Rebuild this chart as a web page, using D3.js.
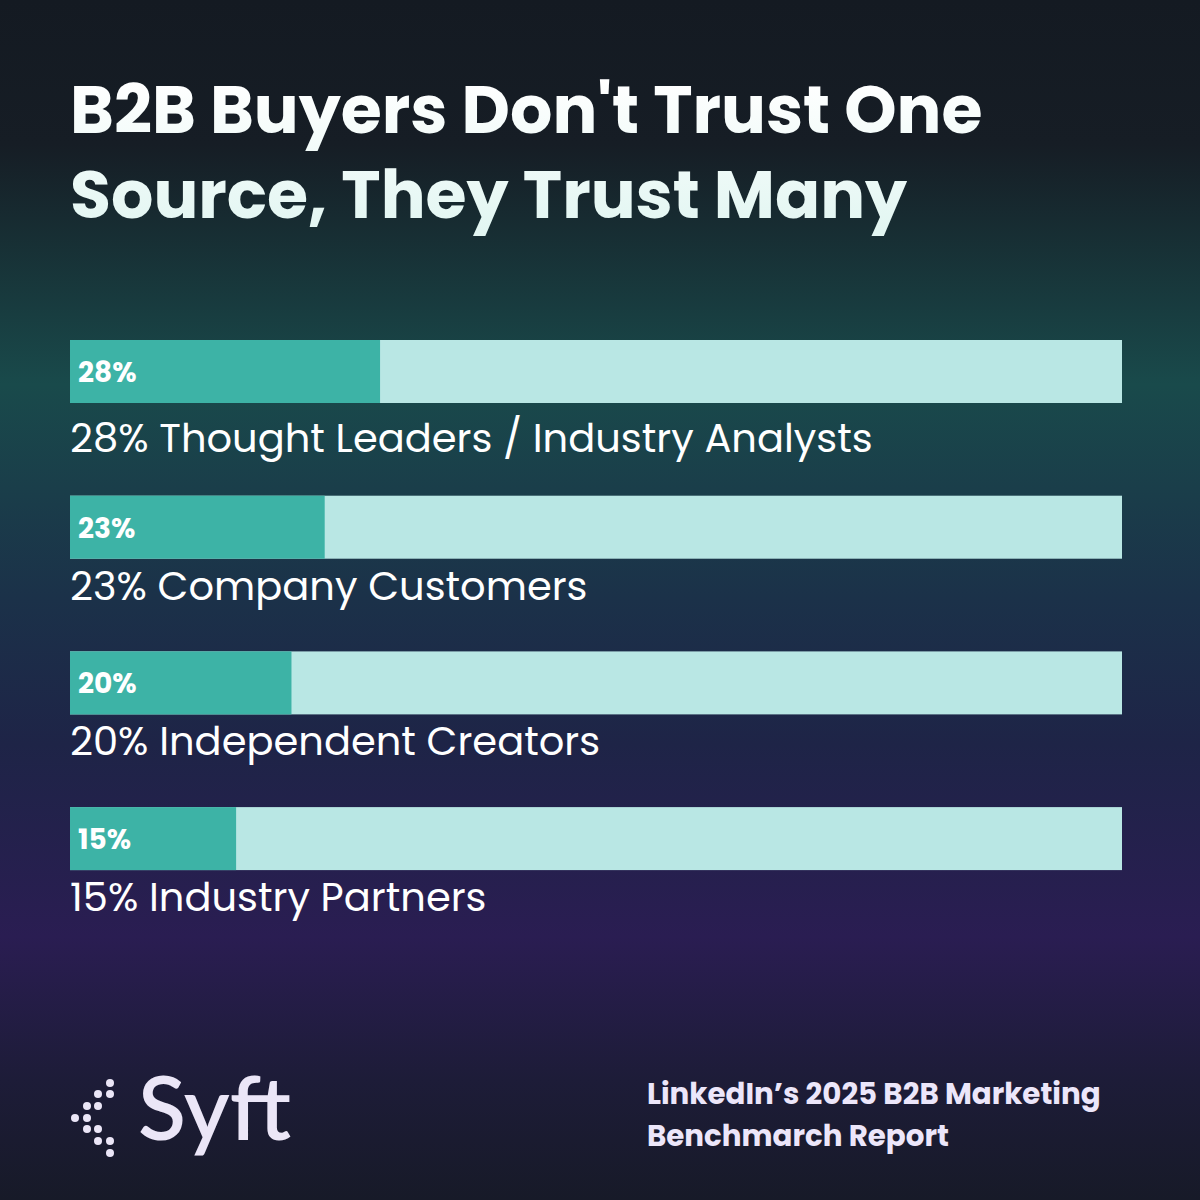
<!DOCTYPE html>
<html>
<head>
<meta charset="utf-8">
<script src="https://cdn.jsdelivr.net/npm/d3@7"></script>
<style>
  html, body { margin: 0; padding: 0; background: #151b23; }
  svg { display: block; }
</style>
</head>
<body>
<div id="chart"></div>
<script>
// data
var categories = ['Thought Leaders / Industry Analysts', 'Company Customers', 'Independent Creators', 'Industry Partners'];
var values = [28, 23, 20, 15];
var titleLines = ["B2B Buyers Don't Trust One", 'Source, They Trust Many'];
var sourceLines = ['LinkedIn\u2019s 2025 B2B Marketing', 'Benchmarch Report'];

var width = 1200, height = 1200;
var font = "Poppins, Inter, 'Open Sans', sans-serif";
var barH = 63, step = 155.7;

var svg = d3.select('#chart')
  .append('svg')
  .attr('width', width)
  .attr('height', height);

var defs = svg.append('defs');

// background gradient, dark top -> teal -> navy -> purple -> dark
var bg = defs.append('linearGradient')
  .attr('id', 'bg')
  .attr('x1', 0).attr('y1', 0).attr('x2', 0).attr('y2', 1);
[[0, '#141a22'], [0.12, '#161d25'], [0.32, '#194a4b'], [0.5, '#1b3149'], [0.62, '#1e2447'], [0.78, '#2a1d52'], [0.9, '#1d1c38'], [1, '#171a28']]
  .forEach(function(s) {
    bg.append('stop').attr('offset', s[0]).attr('stop-color', s[1]);
  });

var tg = defs.append('linearGradient')
  .attr('id', 'titlegrad')
  .attr('gradientUnits', 'userSpaceOnUse')
  .attr('x1', 0).attr('y1', 80).attr('x2', 0).attr('y2', 230);
tg.append('stop').attr('offset', 0).attr('stop-color', '#ffffff');
tg.append('stop').attr('offset', 1).attr('stop-color', '#e2f6f2');

svg.append('rect')
  .attr('width', width)
  .attr('height', height)
  .attr('fill', 'url(#bg)');

// title
svg.append('g')
  .selectAll('text')
  .data(titleLines)
  .enter()
  .append('text')
  .attr('x', 70)
  .attr('y', (d, i) => 133 + i * 85)
  .attr('fill', 'url(#titlegrad)')
  .style('font-family', font)
  .style('font-weight', 700)
  .style('font-size', '66.6px')
  .text(d => d);

// bars
var x = d3.scaleLinear()
  .domain([0, 95])
  .range([70, 1122]);

var y = d3.scaleBand()
  .domain(categories)
  .range([340, 340 + 3 * step + barH])
  .paddingInner(1 - barH / step)
  .paddingOuter(0);

var rows = svg.append('g')
  .selectAll('g')
  .data(categories)
  .enter()
  .append('g')
  .attr('transform', d => 'translate(0,' + y(d) + ')');

rows.append('rect')
  .attr('class', 'track')
  .attr('x', x(0))
  .attr('width', x.range()[1] - x(0))
  .attr('height', y.bandwidth())
  .attr('fill', '#b9e7e4');

rows.append('rect')
  .attr('class', 'bar')
  .attr('x', x(0))
  .attr('width', (d, i) => x(values[i]) - x(0))
  .attr('height', y.bandwidth())
  .attr('fill', '#3db3a6');

rows.append('text')
  .attr('x', x(0) + 8)
  .attr('y', 42)
  .attr('fill', '#ffffff')
  .style('font-family', font)
  .style('font-weight', 700)
  .style('font-size', '28px')
  .text((d, i) => values[i] + '%');

rows.append('text')
  .attr('x', x(0))
  .attr('y', (d, i) => i === 0 ? 112 : 104)
  .attr('fill', '#ffffff')
  .style('font-family', font)
  .style('font-weight', 400)
  .style('font-size', '40px')
  .text((d, i) => values[i] + '% ' + d);

// logo: dotted chevron + wordmark
var dots = [[110, 1083], [98, 1094], [110, 1094], [87, 1106], [98, 1106], [75, 1118], [87, 1118],
            [87, 1129], [98, 1129], [98, 1141], [110, 1141], [110, 1153]];
svg.append('g')
  .selectAll('circle')
  .data(dots)
  .enter()
  .append('circle')
  .attr('cx', d => d[0])
  .attr('cy', d => d[1])
  .attr('r', 4)
  .attr('fill', '#ebe6f7');

svg.append('text')
  .attr('x', 138)
  .attr('y', 1140)
  .attr('fill', '#ebe6f7')
  .style('font-family', "Lato, 'Open Sans', sans-serif")
  .style('font-weight', 600)
  .style('font-size', '88px')
  .text('Syft');

// source note
svg.append('g')
  .selectAll('text')
  .data(sourceLines)
  .enter()
  .append('text')
  .attr('x', 647)
  .attr('y', (d, i) => 1104 + i * 42)
  .attr('fill', '#ece6fa')
  .style('font-family', font)
  .style('font-weight', 700)
  .style('font-size', '29.3px')
  .text(d => d);
</script>
</body>
</html>
